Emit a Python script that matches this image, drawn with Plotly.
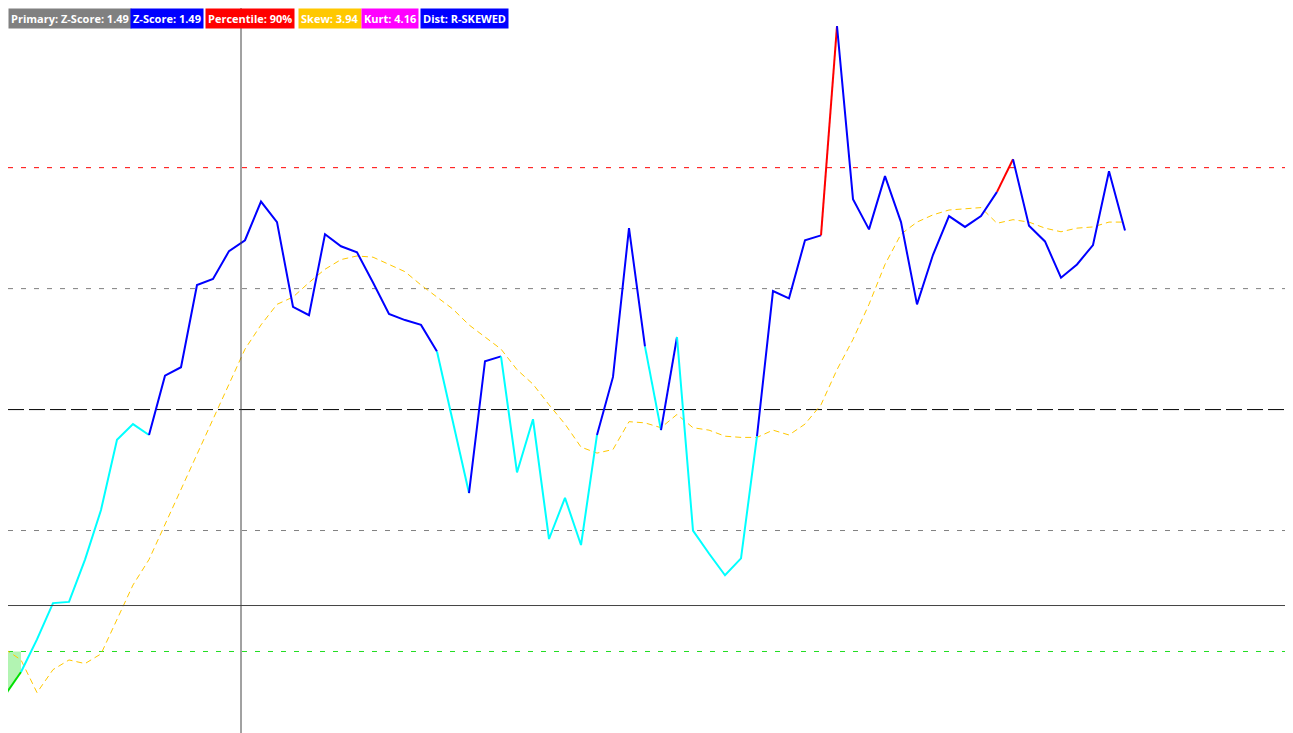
import plotly.graph_objects as go

# z-score per bar
zscore = [-2.36, -2.17, -1.90, -1.60, -1.59, -1.24, -0.83, -0.25, -0.12, -0.21,
          0.28, 0.35, 1.03, 1.08, 1.31, 1.40, 1.72, 1.55, 0.85, 0.78,
          1.45, 1.35, 1.30, 1.05, 0.79, 0.74, 0.70, 0.48, -0.11, -0.69,
          0.40, 0.44, -0.52, -0.08, -1.07, -0.73, -1.12, -0.21, 0.27, 1.50,
          0.52, -0.17, 0.60, -1.00, -1.19, -1.37, -1.23, -0.22, 0.98, 0.92,
          1.40, 1.44, 3.17, 1.74, 1.49, 1.93, 1.55, 0.87, 1.28, 1.60,
          1.51, 1.60, 1.80, 2.07, 1.52, 1.39, 1.09, 1.20, 1.36, 1.97, 1.48]
# smoothed z-score
z_ma = [-1.98, -2.07, -2.34, -2.15, -2.07, -2.10, -2.02, -1.74, -1.45, -1.24,
        -0.95, -0.66, -0.37, -0.08, 0.21, 0.50, 0.70, 0.87, 0.93, 1.05,
        1.16, 1.24, 1.27, 1.26, 1.20, 1.14, 1.03, 0.93, 0.83, 0.70,
        0.60, 0.50, 0.33, 0.21, 0.04, -0.12, -0.31, -0.36, -0.33, -0.10,
        -0.11, -0.15, -0.04, -0.15, -0.17, -0.22, -0.23, -0.23, -0.17, -0.21,
        -0.12, 0.04, 0.33, 0.58, 0.87, 1.20, 1.45, 1.55, 1.61, 1.65,
        1.66, 1.67, 1.54, 1.57, 1.55, 1.50, 1.47, 1.50, 1.51, 1.55, 1.55]
bars = list(range(len(zscore)))

labels = ["Primary: Z-Score: 1.49", "Z-Score: 1.49", "Percentile: 90%",
          "Skew: 3.94", "Kurt: 4.16", "Dist: R-SKEWED"]
label_colors = ["#808080", "#0000FF", "#FF0000", "#FFC800", "#FF00FF", "#0000FF"]
label_x = [0, 122, 197, 290, 353, 412]


def zcolor(z):
    if z > 2:
        return "#FF0000"
    if z > 0:
        return "#0000FF"
    if z > -2:
        return "#00FFFF"
    return "#00E000"


fig = go.Figure()

# fill below -2
fx, fy = [], []
for i, z in enumerate(zscore):
    if z < -2:
        fx.append(i)
        fy.append(z)
if fx:
    fig.add_trace(go.Scatter(x=fx + fx[::-1], y=fy + [-2] * len(fx), fill="toself",
                             fillcolor="rgba(0,220,0,0.3)", line=dict(width=0),
                             mode="lines", hoverinfo="skip", showlegend=False))

fig.add_trace(go.Scatter(x=bars, y=z_ma, mode="lines", showlegend=False,
                         line=dict(color="#FFC800", width=1, dash="6px,4px")))

# colored z-score, segment colour from its end point
start = 0
for i in range(1, len(zscore) + 1):
    if i == len(zscore) or zcolor(zscore[i]) != zcolor(zscore[start + 1]):
        fig.add_trace(go.Scatter(x=bars[start:i], y=zscore[start:i], mode="lines",
                                 showlegend=False,
                                 line=dict(color=zcolor(zscore[start + 1]), width=2)))
        start = i - 1

levels = [2, 1, 0, -1, -2]
level_style = [("#FF0000", "5px,8px"), ("#808080", "5px,8px"), ("#000000", "16px,5px"),
               ("#808080", "5px,8px"), ("#22DD22", "5px,8px")]
for lv, (c, d) in zip(levels, level_style):
    fig.add_hline(y=lv, line=dict(color=c, width=1, dash=d), layer="below")

# crosshair
fig.add_vline(x=14.75, line=dict(color="#444444", width=1))
fig.add_hline(y=-1.62, line=dict(color="#444444", width=1))

for t, c, px in zip(labels, label_colors, label_x):
    fig.add_annotation(text="<b>" + t + "</b>", xref="paper", yref="paper",
                       x=px / 1293, y=1, xanchor="left", yanchor="top",
                       showarrow=False, bgcolor=c, borderpad=2,
                       font=dict(family="Open Sans", size=11, color="white"))

fig.update_layout(width=1293, height=733, margin=dict(l=0, r=0, t=0, b=0),
                  plot_bgcolor="white", paper_bgcolor="white",
                  xaxis=dict(range=[0.1875, 81.0], visible=False),
                  yaxis=dict(range=[-2.74, 3.32], visible=False))

fig.write_html("out.html")
